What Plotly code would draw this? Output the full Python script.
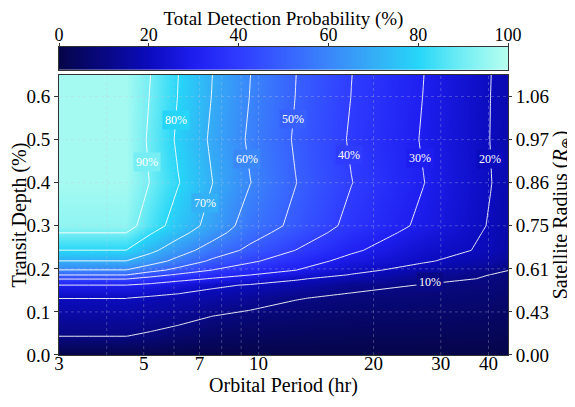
import numpy as np
import plotly.graph_objects as go

# grid: orbital period (hr) x transit depth (%)
periods = [3, 4.5, 5.2, 6.15, 7.55, 9.5, 12.5, 17.5, 27, 40.5, 45]
depths = [0, 0.044, 0.09, 0.132, 0.162, 0.177, 0.186, 0.197, 0.218,
          0.243, 0.284, 0.3, 0.4, 0.5, 0.6, 0.65]

# total detection probability (%), one row per depth
prob = [
    [0, 0, 0, 0, 0, 0, 0, 0, 0, 0, 0],
    [10.1, 10.1, 8.8, 6.7, 4.9, 4.0, 3.4, 2.8, 2.6, 2.3, 2.0],
    [15.2, 15.2, 14.2, 12.8, 10.0, 8.1, 6.9, 5.8, 5.4, 4.8, 4.2],
    [20.1, 20.1, 18.7, 17.6, 16.1, 13.8, 10.4, 8.5, 7.9, 7.0, 6.2],
    [29.8, 29.8, 27.9, 24.8, 21.5, 19.3, 17.1, 12.2, 9.7, 8.6, 7.6],
    [40.5, 40.5, 36.6, 33.1, 29.4, 25.6, 20.9, 16.8, 12.2, 9.4, 8.4],
    [50.2, 50.2, 43.9, 38.5, 34.1, 30.1, 25.0, 19.6, 14.3, 9.9, 9.0],
    [59.7, 59.7, 53.5, 47.1, 39.9, 34.3, 30.1, 22.3, 16.9, 11.9, 10.1],
    [69.8, 69.8, 64.6, 57.1, 48.4, 41.5, 34.5, 27.1, 20.8, 16.2, 13.5],
    [79.9, 79.9, 72.3, 64.5, 55.6, 47.9, 39.9, 31.4, 23.0, 18.8, 16.0],
    [90.1, 90.1, 80.9, 73.1, 64.1, 53.7, 45.7, 35.8, 26.8, 19.0, 16.8],
    [94, 94, 85.0, 75.7, 66.9, 55.5, 47.9, 37.5, 28.3, 19.4, 17.0],
    [97, 97, 89.7, 80.5, 70.2, 60.2, 50.2, 40.2, 30.2, 20.2, 17.5],
    [97, 97, 88.6, 78.6, 68.6, 58.7, 49.1, 39.1, 29.4, 19.9, 17.4],
    [97, 97, 89.7, 79.8, 69.8, 59.8, 49.9, 39.9, 29.9, 20.0, 17.5],
    [97, 97, 90.1, 80.1, 70.1, 60.1, 50.1, 40.1, 30.1, 20.1, 17.5],
]

# where the inline contour labels sit (period hr, depth %)
label_text = ["90%", "80%", "70%", "60%", "50%", "40%", "30%", "20%", "10%"]
label_period = [5.1, 6.08, 7.25, 9.32, 12.3, 17.2, 26.5, 40.4, 28.1]
label_depth = [0.447, 0.546, 0.354, 0.454, 0.549, 0.464, 0.458, 0.456, 0.1685]

period_ticks = [3, 5, 7, 10, 20, 30, 40]
period_grid = [4, 5, 6, 7, 8, 9, 10, 20, 30, 40]
depth_ticks = [0.0, 0.1, 0.2, 0.3, 0.4, 0.5, 0.6]
radius_labels = ["0.00", "0.43", "0.61", "0.75", "0.86", "0.97", "1.06"]
prob_ticks = [0, 20, 40, 60, 80, 100]

FONT = "Liberation Serif"
cmap = [
    [0.0, "#05054a"], [0.1, "#080882"], [0.2, "#0b0bbe"], [0.3, "#1e1ef0"],
    [0.4, "#2f3cff"], [0.5, "#3760ff"], [0.6, "#3a86fa"], [0.7, "#34aef6"],
    [0.8, "#26d6f8"], [0.9, "#74eef4"], [1.0, "#b8fff0"],
]


def cmap_color(v):
    # colour of value v (0-100) on the map above, used behind the labels
    f = min(max(v / 100.0, 0), 1)
    for (f0, c0), (f1, c1) in zip(cmap[:-1], cmap[1:]):
        if f0 <= f <= f1:
            t = (f - f0) / (f1 - f0)
            a = [int(c0[i:i + 2], 16) for i in (1, 3, 5)]
            b = [int(c1[i:i + 2], 16) for i in (1, 3, 5)]
            r, g, bl = [round(a[k] + t * (b[k] - a[k])) for k in range(3)]
            return f"rgb({r},{g},{bl})"
    return cmap[-1][1]


def value_at(p, d):
    lp = np.log10(periods)
    col = [np.interp(np.log10(p), lp, row) for row in prob]
    return np.interp(d, depths, col)


fig = go.Figure()
fig.add_trace(go.Heatmap(
    x=periods, y=depths, z=prob, colorscale=cmap, zmin=0, zmax=100,
    zsmooth="best", showscale=False, hoverinfo="skip"))
fig.add_trace(go.Contour(
    x=periods, y=depths, z=prob, showscale=False, yaxis="y2",
    contours=dict(start=10, end=90, size=10, coloring="none", showlabels=False),
    line=dict(color="rgba(255,255,255,0.9)", width=1, smoothing=0), hoverinfo="skip"))

# colour bar drawn as its own strip so the labels can sit on top
fig.add_trace(go.Heatmap(
    x=[0, 100], y=[0, 1], z=[[0, 100], [0, 100]], colorscale=cmap,
    zmin=0, zmax=100, zsmooth="best", showscale=False, hoverinfo="skip",
    xaxis="x2", yaxis="y3"))

main_top = 0.8069
for g in period_grid:
    fig.add_shape(type="line", xref="x", yref="paper", x0=g, x1=g, y0=0, y1=main_top,
                  line=dict(color="rgba(200,200,220,0.3)", width=1, dash="dot"), layer="above")
for g in depth_ticks[1:]:
    fig.add_shape(type="line", xref="paper", yref="y", x0=0, x1=1, y0=g, y1=g,
                  line=dict(color="rgba(200,200,220,0.3)", width=1, dash="dot"), layer="above")

for txt, p, d in zip(label_text, label_period, label_depth):
    fig.add_annotation(x=np.log10(p), y=d, xref="x", yref="y", text=txt, showarrow=False,
                       font=dict(family=FONT, size=12, color="white"),
                       bgcolor=cmap_color(value_at(p, d)), borderpad=2)

axis_common = dict(showline=True, linecolor="#333", linewidth=1, tickcolor="#333",
                   showgrid=False, zeroline=False, automargin=False)

# the page body adds 8px on the left and top, so the figure is 8px smaller
fig.update_layout(
    width=567, height=399,
    margin=dict(l=51, r=67, t=0, b=52),
    paper_bgcolor="white", plot_bgcolor="white",
    font=dict(family=FONT, color="black", size=19),
    showlegend=False,
    xaxis=dict(type="log", range=[np.log10(3), np.log10(45)], tickvals=period_ticks,
               ticktext=[str(t) for t in period_ticks], mirror=True, anchor="y",
               ticks="", ticklabelstandoff=-9, tickfont=dict(size=19),
               title=dict(text="Orbital Period (hr)", font=dict(size=20), standoff=5),
               **axis_common),
    yaxis=dict(range=[0, 0.65], domain=[0, main_top], tickvals=depth_ticks,
               tickformat=".1f", anchor="x", ticks="outside", ticklen=4,
               tickfont=dict(size=19),
               title=dict(text="Transit Depth (%)", font=dict(size=20), standoff=4),
               **axis_common),
    yaxis2=dict(range=[0, 0.65], overlaying="y", side="right", anchor="x",
                tickvals=depth_ticks, ticktext=radius_labels, ticks="outside", ticklen=3,
                tickfont=dict(size=19),
                title=dict(text="Satellite Radius (<i>R</i><sub>⊕</sub>)",
                           font=dict(size=20), standoff=0),
                **axis_common),
    xaxis2=dict(range=[0, 100], anchor="y3", side="top", tickvals=prob_ticks,
                mirror=True, ticks="outside", ticklen=3, ticklabelstandoff=-6,
                tickfont=dict(size=18),
                title=dict(text="Total Detection Probability (%)", font=dict(size=19), standoff=2),
                **axis_common),
    yaxis3=dict(range=[0, 1], domain=[0.8213, 0.8885], anchor="x2", showticklabels=False,
                ticks="", showline=True, linecolor="#333", mirror=True, showgrid=False,
                zeroline=False),
)

fig.write_html("out.html")
